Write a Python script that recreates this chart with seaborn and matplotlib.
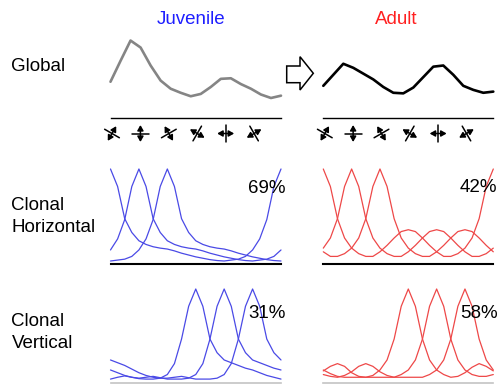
import numpy as np
import matplotlib
matplotlib.use('Agg')
import matplotlib.pyplot as plt
import seaborn as sns

sns.set_theme(style='white')
plt.rcParams['font.family'] = ['Liberation Sans', 'DejaVu Sans']

W, H = 499, 384

# ===== DATA =====
conditions = ['Juvenile', 'Adult']
cond_colors = ['#1f1fff', '#ff2020']
row_labels = [['Global'], ['Clonal', 'Horizontal'], ['Clonal', 'Vertical']]
pct_horizontal = ['69%', '42%']
pct_vertical = ['31%', '58%']
icon_angles = [60, 90, 120, 150, 180, 210]   # double-arrow direction of each stimulus

# global response (18 samples across the 6 stimuli)
global_pos = np.linspace(0, 6, 18)
global_juv = [0.28, 0.64, 0.99, 0.87, 0.56, 0.30, 0.16, 0.09, 0.03, 0.07,
              0.19, 0.33, 0.34, 0.24, 0.16, 0.06, 0.0, 0.04]
global_adult = [0.21, 0.40, 0.59, 0.52, 0.42, 0.32, 0.19, 0.09, 0.08, 0.18,
                0.36, 0.54, 0.56, 0.40, 0.21, 0.14, 0.09, 0.11]

# clonal tuning curves, sampled every 0.25 stimulus step
pos = np.arange(0, 6.01, 0.25)

horiz_juv = [
    [1.0, 0.81, 0.46, 0.31, 0.22, 0.18, 0.155, 0.14, 0.13, 0.11, 0.085, 0.065, 0.045,
     0.03, 0.015, 0.005, 0.0, 0.01, 0.02, 0.05, 0.12, 0.24, 0.45, 0.81, 1.0],
    [0.12, 0.24, 0.45, 0.81, 1.0, 0.81, 0.46, 0.31, 0.22, 0.18, 0.155, 0.14, 0.13,
     0.11, 0.085, 0.065, 0.045, 0.03, 0.015, 0.005, 0.0, 0.01, 0.02, 0.05, 0.12],
    [0.0, 0.01, 0.02, 0.05, 0.12, 0.24, 0.45, 0.81, 1.0, 0.81, 0.46, 0.31, 0.22,
     0.18, 0.155, 0.14, 0.13, 0.11, 0.085, 0.065, 0.045, 0.03, 0.015, 0.005, 0.0],
]
horiz_adult = [
    [1.0, 0.81, 0.46, 0.25, 0.14, 0.08, 0.05, 0.05, 0.10, 0.17, 0.25, 0.32, 0.34,
     0.32, 0.25, 0.17, 0.10, 0.05, 0.05, 0.08, 0.14, 0.25, 0.46, 0.81, 1.0],
    [0.14, 0.25, 0.46, 0.81, 1.0, 0.81, 0.46, 0.25, 0.14, 0.08, 0.05, 0.05, 0.10,
     0.17, 0.25, 0.32, 0.34, 0.32, 0.25, 0.17, 0.10, 0.05, 0.05, 0.08, 0.14],
    [0.10, 0.05, 0.05, 0.08, 0.14, 0.25, 0.46, 0.81, 1.0, 0.81, 0.46, 0.25, 0.14,
     0.08, 0.05, 0.05, 0.10, 0.17, 0.25, 0.32, 0.34, 0.32, 0.25, 0.17, 0.10],
]
vert_juv = [
    [0.01, 0.03, 0.045, 0.03, 0.015, 0.01, 0.01, 0.02, 0.06, 0.18, 0.45, 0.81, 1.0,
     0.81, 0.45, 0.30, 0.22, 0.19, 0.16, 0.13, 0.11, 0.08, 0.05, 0.03, 0.01],
    [0.11, 0.08, 0.05, 0.03, 0.02, 0.03, 0.04, 0.025, 0.01, 0.01, 0.01, 0.02, 0.06,
     0.18, 0.45, 0.81, 1.0, 0.81, 0.45, 0.30, 0.22, 0.19, 0.16, 0.13, 0.11],
    [0.22, 0.19, 0.16, 0.12, 0.08, 0.05, 0.03, 0.02, 0.02, 0.03, 0.04, 0.025, 0.01,
     0.01, 0.01, 0.02, 0.06, 0.18, 0.45, 0.81, 1.0, 0.81, 0.45, 0.30, 0.22],
]
vert_adult = [
    [0.10, 0.15, 0.18, 0.15, 0.08, 0.04, 0.03, 0.05, 0.11, 0.22, 0.45, 0.81, 1.0,
     0.81, 0.45, 0.22, 0.11, 0.06, 0.03, 0.04, 0.08, 0.14, 0.18, 0.15, 0.10],
    [0.06, 0.04, 0.03, 0.05, 0.09, 0.15, 0.18, 0.15, 0.09, 0.05, 0.03, 0.06, 0.11,
     0.22, 0.45, 0.81, 1.0, 0.81, 0.45, 0.22, 0.11, 0.06, 0.04, 0.04, 0.06],
    [0.11, 0.07, 0.04, 0.03, 0.03, 0.03, 0.03, 0.03, 0.03, 0.03, 0.03, 0.03, 0.03,
     0.03, 0.03, 0.06, 0.11, 0.22, 0.45, 0.81, 1.0, 0.81, 0.45, 0.22, 0.11],
]

# ===== LAYOUT (pixels) =====
col_x = [(110.5, 281.0), (323.3, 493.3)]
curve_colors = ['#4a4ae6', '#ee4848']

fig = plt.figure(figsize=(W / 100, H / 100), dpi=100)

# overlay in pixel coordinates for icons / block arrow
ov = fig.add_axes([0, 0, 1, 1])
ov.set_xlim(0, W)
ov.set_ylim(H, 0)
ov.axis('off')


def panel(x0, x1, top, bottom, ylim, base_color, base_lw):
    ax = fig.add_axes([x0 / W, 1 - bottom / H, (x1 - x0) / W, (bottom - top) / H])
    ax.set_xlim(0, 6)
    ax.set_ylim(*ylim)
    ax.set_xticks([])
    ax.set_yticks([])
    for s in ['top', 'left', 'right']:
        ax.spines[s].set_visible(False)
    ax.spines['bottom'].set_color(base_color)
    ax.spines['bottom'].set_linewidth(base_lw)
    ax.patch.set_alpha(0)
    return ax


def icon(cx, cy, angle, half=8.5):
    t = np.deg2rad(angle)
    dx, dy = np.cos(t) * half, -np.sin(t) * half
    ov.annotate('', xy=(cx + dx, cy + dy), xytext=(cx - dx, cy - dy),
                arrowprops=dict(arrowstyle='<|-|>,head_length=0.35,head_width=0.2',
                                lw=1.1, color='black', shrinkA=0, shrinkB=0,
                                mutation_scale=9))
    ov.plot([cx + dy, cx - dy], [cy - dx, cy + dx], color='black', lw=1.1)


global_data = [global_juv, global_adult]
global_colors = ['#858585', 'black']
horiz_data = [horiz_juv, horiz_adult]
vert_data = [vert_juv, vert_adult]

for i, (x0, x1) in enumerate(col_x):
    # global row
    ax = panel(x0, x1, 30, 118.3, (-0.35, 1.172), 'black', 1.0)
    sns.lineplot(x=global_pos, y=global_data[i], ax=ax, color=global_colors[i],
                 lw=1.9, clip_on=False)
    unit = (x1 - x0) / 6
    for k, ang in enumerate(icon_angles):
        icon(x0 + 1.5 + k * unit, 133.5, ang)

    # clonal horizontal
    ax = panel(x0, x1, 160, 264, (-0.0326, 1.0978), 'black', 1.5)
    for vals in horiz_data[i]:
        sns.lineplot(x=pos, y=vals, ax=ax, color=curve_colors[i], lw=0.9, clip_on=False)

    # clonal vertical
    ax = panel(x0, x1, 280, 382.7, (-0.0297, 1.099), '#c4c4c4', 1.2)
    for vals in vert_data[i]:
        sns.lineplot(x=pos, y=vals, ax=ax, color=curve_colors[i], lw=0.9, clip_on=False)

# block arrow between global panels
arrow_shape = [(286.7, 66), (300, 66), (300, 56.7), (313.3, 73.3), (300, 90),
               (300, 82.7), (286.7, 82.7)]
ov.add_patch(plt.Polygon(arrow_shape, closed=True, facecolor='white',
                         edgecolor='black', lw=1.1))

# text
fs = 13.5


def ftext(x, y, s, **kw):
    fig.text(x / W, 1 - y / H, s, fontsize=fs, **kw)


ftext(191.5, 20, conditions[0], color=cond_colors[0], ha='center', va='center')
ftext(396, 20, conditions[1], color=cond_colors[1], ha='center', va='center')

ftext(11.5, 70.7, row_labels[0][0], color='black', va='baseline')
ftext(11.5, 210, row_labels[1][0], color='black', va='baseline')
ftext(11.5, 231.7, row_labels[1][1], color='black', va='baseline')
ftext(11.5, 326, row_labels[2][0], color='black', va='baseline')
ftext(11.5, 348, row_labels[2][1], color='black', va='baseline')

ftext(285.5, 192.7, pct_horizontal[0], color='black', ha='right', va='baseline')
ftext(497.5, 191.7, pct_horizontal[1], color='black', ha='right', va='baseline')
ftext(285.5, 318.3, pct_vertical[0], color='black', ha='right', va='baseline')
ftext(497.5, 318.3, pct_vertical[1], color='black', ha='right', va='baseline')

fig.savefig('out.png', dpi=100)
